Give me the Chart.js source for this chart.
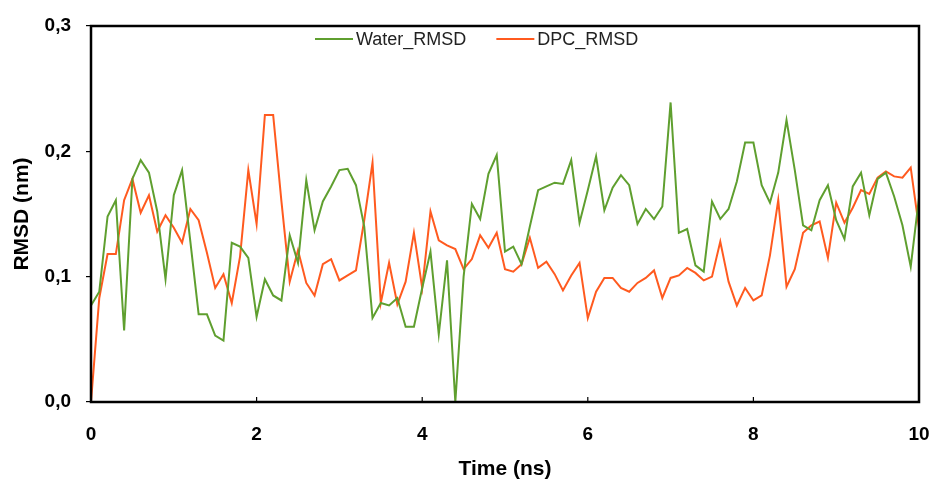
<!DOCTYPE html>
<html>
<head>
<meta charset="utf-8">
<script src="https://cdn.jsdelivr.net/npm/chart.js@4.4.1/dist/chart.umd.min.js"></script>
<style>
  html, body { margin: 0; padding: 0; background: #fff; }
  .chart-container { position: relative; width: 932px; height: 484px; }
</style>
</head>
<body>
<div class="chart-container"><canvas id="chart"></canvas></div>
<script>
// RMSD of the peptide in water vs in DPC micelle, 0-10 ns
const timeNs = [
  0.0, 0.1, 0.2, 0.3, 0.4, 0.5, 0.6, 0.7, 0.8, 0.9,
  1.0, 1.1, 1.2, 1.3, 1.4, 1.5, 1.6, 1.7, 1.8, 1.9,
  2.0, 2.1, 2.2, 2.3, 2.4, 2.5, 2.6, 2.7, 2.8, 2.9,
  3.0, 3.1, 3.2, 3.3, 3.4, 3.5, 3.6, 3.7, 3.8, 3.9,
  4.0, 4.1, 4.2, 4.3, 4.4, 4.5, 4.6, 4.7, 4.8, 4.9,
  5.0, 5.1, 5.2, 5.3, 5.4, 5.5, 5.6, 5.7, 5.8, 5.9,
  6.0, 6.1, 6.2, 6.3, 6.4, 6.5, 6.6, 6.7, 6.8, 6.9,
  7.0, 7.1, 7.2, 7.3, 7.4, 7.5, 7.6, 7.7, 7.8, 7.9,
  8.0, 8.1, 8.2, 8.3, 8.4, 8.5, 8.6, 8.7, 8.8, 8.9,
  9.0, 9.1, 9.2, 9.3, 9.4, 9.5, 9.6, 9.7, 9.8, 9.9,
  10.0
];

const waterRmsd = [
  0.077, 0.088, 0.148, 0.161, 0.057, 0.178, 0.193, 0.183, 0.152, 0.098,
  0.165, 0.185, 0.128, 0.070, 0.070, 0.053, 0.049, 0.127, 0.124, 0.115,
  0.068, 0.098, 0.085, 0.081, 0.133, 0.111, 0.177, 0.137, 0.160, 0.172,
  0.185, 0.186, 0.173, 0.140, 0.067, 0.079, 0.077, 0.083, 0.060, 0.060,
  0.091, 0.120, 0.054, 0.113, 0.000, 0.100, 0.158, 0.146, 0.182, 0.197,
  0.120, 0.124, 0.110, 0.140, 0.169, 0.172, 0.175, 0.174, 0.193, 0.143,
  0.169, 0.196, 0.153, 0.171, 0.181, 0.173, 0.142, 0.154, 0.146, 0.156,
  0.239, 0.135, 0.138, 0.109, 0.104, 0.160, 0.146, 0.154, 0.176, 0.207,
  0.207, 0.173, 0.159, 0.183, 0.225, 0.185, 0.141, 0.137, 0.161, 0.173,
  0.145, 0.130, 0.172, 0.183, 0.149, 0.178, 0.183, 0.164, 0.141, 0.108,
  0.163
];

const dpcRmsd = [
  0.000, 0.083, 0.118, 0.118, 0.161, 0.178, 0.151, 0.165, 0.136, 0.149,
  0.139, 0.127, 0.154, 0.145, 0.119, 0.091, 0.102, 0.079, 0.116, 0.185,
  0.142, 0.229, 0.229, 0.160, 0.096, 0.121, 0.095, 0.085, 0.110, 0.114,
  0.097, 0.101, 0.105, 0.145, 0.191, 0.079, 0.111, 0.078, 0.096, 0.135,
  0.091, 0.152, 0.129, 0.125, 0.122, 0.106, 0.114, 0.133, 0.123, 0.135,
  0.106, 0.104, 0.110, 0.131, 0.107, 0.112, 0.102, 0.089, 0.101, 0.111,
  0.067, 0.088, 0.099, 0.099, 0.091, 0.088, 0.095, 0.099, 0.105, 0.083,
  0.099, 0.101, 0.107, 0.103, 0.097, 0.100, 0.128, 0.096, 0.077, 0.091,
  0.081, 0.085, 0.117, 0.161, 0.092, 0.106, 0.135, 0.141, 0.144, 0.115,
  0.159, 0.143, 0.155, 0.169, 0.166, 0.179, 0.184, 0.180, 0.179, 0.187,
  0.139
];

const seriesNames = ['Water_RMSD', 'DPC_RMSD'];
const seriesColors = ['#5f9f2f', '#ff5a1f'];

const toPoints = (values) => values.map((v, i) => ({ x: timeNs[i], y: v }));

// box round the plot + the little inner ticks on the time axis
const frame = {
  id: 'frame',
  afterDraw(chart) {
    const { ctx, chartArea: a } = chart;
    const xs = chart.scales.x;
    ctx.save();
    ctx.strokeStyle = '#000';
    ctx.lineWidth = 1.2;
    xs.ticks.forEach(t => {
      const px = xs.getPixelForValue(t.value);
      ctx.beginPath();
      ctx.moveTo(px, a.bottom);
      ctx.lineTo(px, a.bottom - 5);
      ctx.stroke();
    });
    ctx.lineWidth = 2.5;
    ctx.strokeRect(a.left, a.top, a.right - a.left, a.bottom - a.top);
    ctx.restore();
  }
};

// legend sits inside the plot box, so draw it by hand
const insideLegend = {
  id: 'insideLegend',
  afterDraw(chart) {
    const { ctx } = chart;
    let x = 315;
    const y = 39;
    ctx.save();
    ctx.font = '18px "Liberation Sans", Arial, sans-serif';
    ctx.textBaseline = 'middle';
    chart.data.datasets.forEach(ds => {
      ctx.strokeStyle = ds.borderColor;
      ctx.lineWidth = 2;
      ctx.beginPath();
      ctx.moveTo(x, y);
      ctx.lineTo(x + 38, y);
      ctx.stroke();
      ctx.fillStyle = '#222';
      ctx.fillText(ds.label, x + 41, y + 1);
      x += 41 + ctx.measureText(ds.label).width + 30;
    });
    ctx.restore();
  }
};

const createChart = () => {
  const node = document.getElementById('chart');
  const tickFont = { family: '"Liberation Sans", Arial, sans-serif', size: 19, weight: 'bold' };
  const titleFont = { family: '"Liberation Sans", Arial, sans-serif', size: 21, weight: 'bold' };

  new Chart(node, {
    type: 'line',
    data: {
      datasets: seriesNames.map((name, i) => ({
        label: name,
        data: toPoints(i === 0 ? waterRmsd : dpcRmsd),
        borderColor: seriesColors[i],
        backgroundColor: seriesColors[i],
        borderWidth: 2,
        pointRadius: 0,
        tension: 0,
        clip: false
      }))
    },
    options: {
      responsive: true,
      maintainAspectRatio: false,
      animation: false,
      layout: { padding: { top: 26, right: 13, left: 0, bottom: 0 } },
      plugins: {
        legend: { display: false },
        tooltip: { enabled: false }
      },
      scales: {
        x: {
          type: 'linear',
          min: 0,
          max: 10,
          grid: { display: false, drawTicks: false },
          border: { display: false },
          ticks: { stepSize: 2, color: '#000', font: tickFont, padding: 21, maxRotation: 0 },
          title: { display: true, text: 'Time (ns)', color: '#000', font: titleFont, padding: { top: 0, bottom: 2 } },
          afterFit: (axis) => {
            axis.height = 82;
            axis.paddingLeft = 0;
            axis.paddingRight = 0;
          }
        },
        y: {
          min: 0,
          max: 0.3,
          grid: { drawOnChartArea: false, drawTicks: true, tickLength: 5, color: '#000', lineWidth: 1.2 },
          border: { display: false },
          ticks: {
            stepSize: 0.1,
            color: '#000',
            font: tickFont,
            padding: 15,
            callback: (v) => v.toFixed(1).replace('.', ',')
          },
          title: { display: true, text: 'RMSD (nm)', color: '#000', font: titleFont, padding: { top: 10, bottom: 0 } },
          afterFit: (axis) => {
            axis.width = 91;
            axis.paddingTop = 0;
            axis.paddingBottom = 0;
          }
        }
      }
    },
    plugins: [frame, insideLegend]
  });
};

createChart();
</script>
</body>
</html>
